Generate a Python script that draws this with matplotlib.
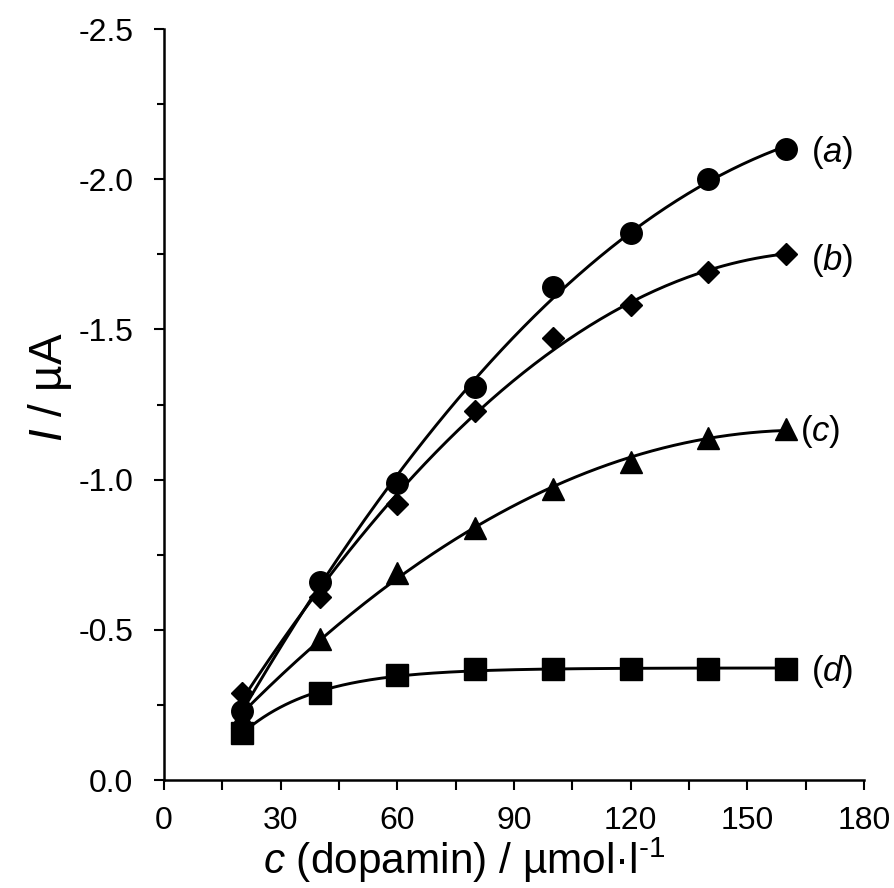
import numpy as np
import matplotlib
matplotlib.use('Agg')
import matplotlib.pyplot as plt
from matplotlib.ticker import MultipleLocator, FormatStrFormatter

plt.rcParams['font.family'] = ['Liberation Sans', 'DejaVu Sans']
plt.rcParams['mathtext.fontset'] = 'custom'
plt.rcParams['mathtext.rm'] = 'Liberation Sans'
plt.rcParams['mathtext.it'] = 'Liberation Sans:italic'
plt.rcParams['axes.unicode_minus'] = False

# dopamine concentration (umol/l)
conc = np.array([20, 40, 60, 80, 100, 120, 140, 160])

# peak currents (uA)
cur_a = np.array([-0.23, -0.66, -0.99, -1.31, -1.64, -1.82, -2.00, -2.10])
cur_b = np.array([-0.29, -0.61, -0.92, -1.23, -1.47, -1.58, -1.69, -1.75])
cur_c = np.array([-0.21, -0.47, -0.69, -0.84, -0.97, -1.06, -1.14, -1.17])
cur_d = np.array([-0.155, -0.29, -0.35, -0.37, -0.37, -0.37, -0.37, -0.37])

labels = ['(a)', '(b)', '(c)', '(d)']
label_x = [166.5, 166.5, 163.5, 166.5]
label_y = [-2.09, -1.73, -1.16, -0.36]


def poly_curve(x, y, deg=2):
    p = np.polyfit(x, y, deg)
    xs = np.linspace(x.min(), x.max(), 200)
    return xs, np.polyval(p, xs)


def exp_curve(x, y):
    # y = A + B*exp(-k x), best k by grid search
    best = None
    for k in np.linspace(0.005, 0.2, 400):
        M = np.column_stack([np.ones_like(x, dtype=float), np.exp(-k * x)])
        coef, res, _, _ = np.linalg.lstsq(M, y, rcond=None)
        err = np.sum((M @ coef - y) ** 2)
        if best is None or err < best[0]:
            best = (err, k, coef)
    _, k, coef = best
    xs = np.linspace(x.min(), x.max(), 200)
    return xs, coef[0] + coef[1] * np.exp(-k * xs)


fig = plt.figure(figsize=(8.94, 8.88), dpi=100)
ax = fig.add_axes([0.1834, 0.1216, 0.783, 0.8457])

lw = 2.1
for y, m, ms in [(cur_a, 'o', 15.5), (cur_b, 'D', 11.3), (cur_c, '^', 15.5)]:
    xs, ys = poly_curve(conc, y, 2)
    ax.plot(xs, ys, color='black', lw=lw, zorder=2)
    ax.plot(conc, y, linestyle='none', marker=m, markersize=ms,
            color='black', zorder=3, clip_on=False)

xs, ys = exp_curve(conc, cur_d)
ax.plot(xs, ys, color='black', lw=lw, zorder=2)
ax.plot(conc, cur_d, linestyle='none', marker='s', markersize=15.5,
        color='black', zorder=3, clip_on=False)

for t, x, y in zip(labels, label_x, label_y):
    ax.text(x, y, t.replace(t[1], '$' + t[1] + '$'), fontsize=25,
            ha='left', va='center', clip_on=False)

ax.set_xlim(0, 180)
ax.set_ylim(0, -2.5)
ax.xaxis.set_major_locator(MultipleLocator(30))
ax.xaxis.set_minor_locator(MultipleLocator(15))
ax.yaxis.set_major_locator(MultipleLocator(0.5))
ax.yaxis.set_minor_locator(MultipleLocator(0.25))
ax.yaxis.set_major_formatter(FormatStrFormatter('%.1f'))

for side in ['top', 'right']:
    ax.spines[side].set_visible(False)
for side in ['left', 'bottom']:
    ax.spines[side].set_linewidth(1.8)

ax.tick_params(axis='both', which='major', labelsize=23, width=1.5,
               length=7, direction='out')
ax.tick_params(axis='x', which='major', pad=12)
ax.tick_params(axis='y', which='major', pad=15)
ax.tick_params(axis='x', which='minor', width=1.5, length=7)
ax.tick_params(axis='y', which='minor', width=1.5, length=5)

# axis titles placed by hand, like in the original
fig.text(464 / 894, 1 - 874 / 888, '$c$ (dopamin) / µmol·l$^{\\mathrm{\u20101}}$',
         fontsize=30.5, ha='center', va='baseline')
fig.text(62 / 894, 1 - 387.5 / 888, '$I$ / µA', fontsize=33, rotation=90,
         ha='center', va='baseline', rotation_mode='anchor')

fig.savefig('out.png', dpi=100)
